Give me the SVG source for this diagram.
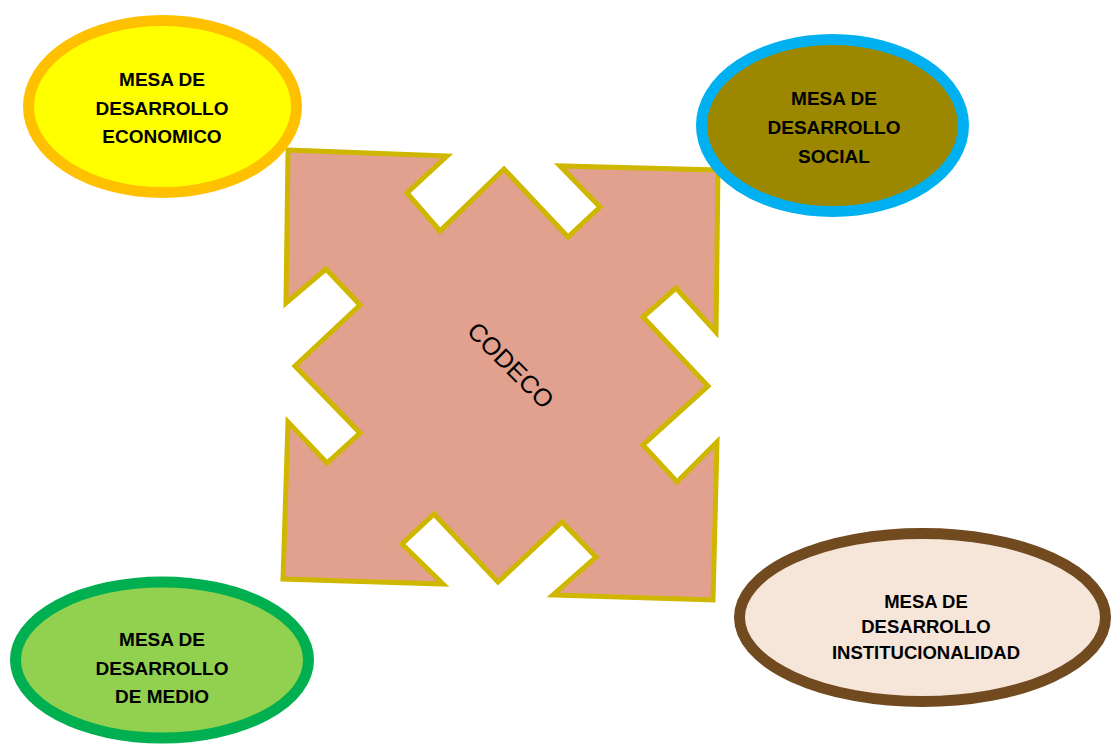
<svg xmlns="http://www.w3.org/2000/svg" width="1112" height="744" viewBox="0 0 1112 744">
<style>
.lbl{font-family:"Liberation Sans",Arial,sans-serif;font-weight:bold;font-size:19px;fill:#000;text-anchor:middle}
.ell{stroke-width:11}
</style>
<rect width="1112" height="744" fill="#fff"/>
<g id="codeco">
<polygon points="288,150 447,156 407,193 440,231 504,169 568,237 600,207 560,166 718,170 716,332 676,288 643,317 708,386 643,445 677,482 717,442 713,600 553,595 596,557 562,522 498,582 434,514 402,544 443,584 283,579 288,422 327,463 360,433 295,366 360,305 326,269 286,303" fill="#E2A08F" stroke="#CFB700" stroke-width="5" stroke-linejoin="miter"/>
<text x="511" y="365" transform="rotate(45 511 365)" font-family="'Liberation Sans',Arial,sans-serif" font-size="25" text-anchor="middle" dominant-baseline="central" fill="#000">CODECO</text>
</g>
<g id="economico">
<ellipse class="ell" cx="162.5" cy="106.5" rx="134" ry="86" fill="#FFFF00" stroke="#FFC000"/>
<text class="lbl" x="162" y="86">MESA DE</text>
<text class="lbl" x="162" y="115">DESARROLLO</text>
<text class="lbl" x="162" y="143">ECONOMICO</text>
</g>
<g id="social">
<ellipse class="ell" cx="832.5" cy="125.5" rx="131" ry="86" fill="#9C8800" stroke="#00B0F0"/>
<text class="lbl" x="834" y="105">MESA DE</text>
<text class="lbl" x="834" y="134">DESARROLLO</text>
<text class="lbl" x="834" y="163">SOCIAL</text>
</g>
<g id="medio">
<ellipse class="ell" cx="162" cy="660" rx="146.5" ry="78" fill="#92D050" stroke="#00B050"/>
<text class="lbl" x="162" y="646">MESA DE</text>
<text class="lbl" x="162" y="675">DESARROLLO</text>
<text class="lbl" x="162" y="703">DE MEDIO</text>
</g>
<g id="institucionalidad">
<ellipse class="ell" cx="922.5" cy="617.5" rx="183" ry="84" fill="#F6E6DA" stroke="#714A1F"/>
<text class="lbl" x="926" y="608" style="font-size:18.5px">MESA DE</text>
<text class="lbl" x="926" y="633" style="font-size:18.5px">DESARROLLO</text>
<text class="lbl" x="926" y="659" style="font-size:18.5px">INSTITUCIONALIDAD</text>
</g>
<g id="connectors"/>
</svg>
